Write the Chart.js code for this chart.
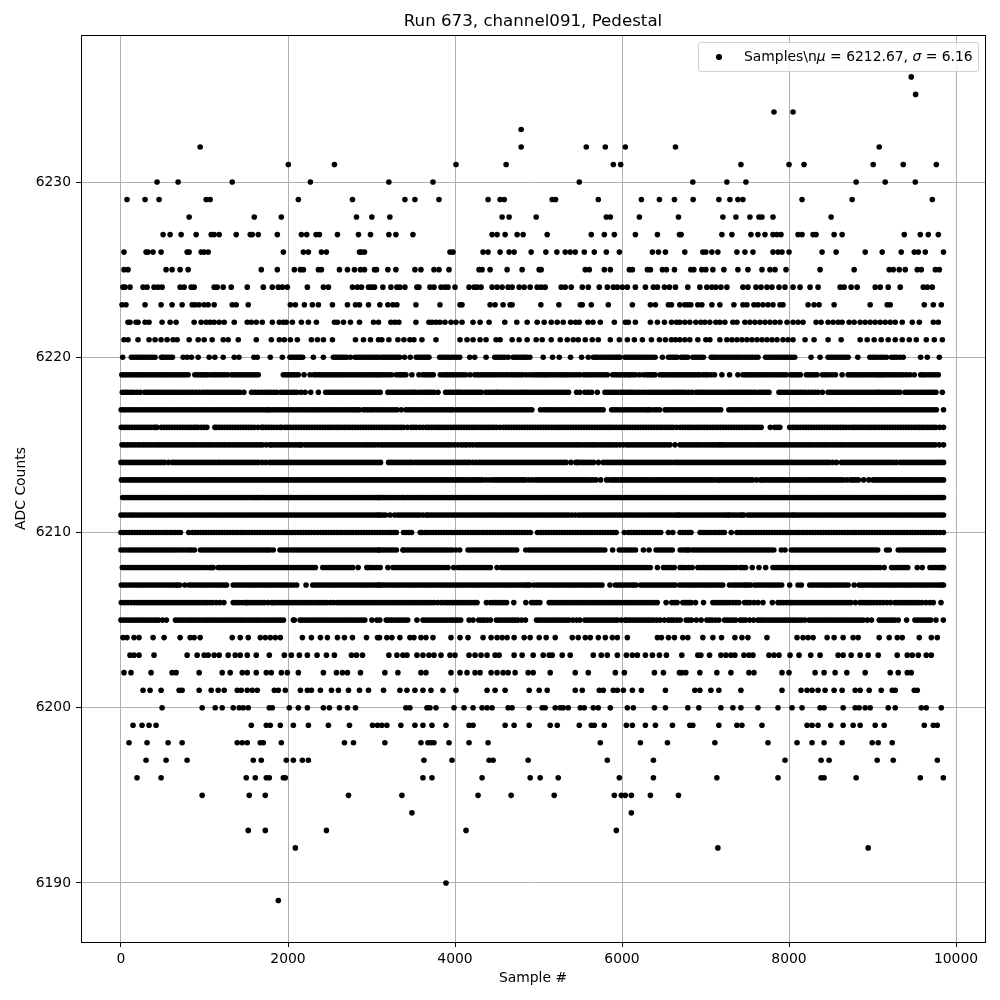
<!DOCTYPE html>
<html>
<head>
<meta charset="utf-8">
<title>Run 673, channel091, Pedestal</title>
<script src="https://cdn.jsdelivr.net/npm/chart.js@4"></script>
<style>
  html, body { margin: 0; padding: 0; background: #fff; }
  #wrap { position: relative; width: 1000px; height: 1000px; }
  #legend {
    position: absolute; left: 698px; top: 42px; width: 279px; height: 28px;
    background: rgba(255,255,255,0.8); border: 1px solid #d0d0d0; border-radius: 3px;
    font: 13.9px "DejaVu Sans", sans-serif; color: #000;
  }
  #legend .dot { position: absolute; left: 17px; top: 11px; width: 5.6px; height: 5.6px; border-radius: 50%; background: #000; }
  #legend .txt { position: absolute; left: 45px; top: 5px; white-space: pre; }
</style>
</head>
<body>
<div id="wrap">
  <canvas id="pedestal" width="1000" height="1000"></canvas>
  <div id="legend"><span class="dot"></span><span class="txt">Samples\n<i>μ</i> = 6212.67, <i>σ</i> = 6.16</span></div>
</div>
<script>
const xTickValues = [0, 2000, 4000, 6000, 8000, 10000];
const yTickValues = [6190, 6200, 6210, 6220, 6230];

// sample numbers, one list per ADC level
const at6236 = [9464];
const at6235 = [9516];
const at6234 = [7820, 8048];
const at6233 = [4792];
const at6232 = [948, 4792, 5572, 5800, 6040, 6640, 9080];
const at6231 = [2004, 2556, 4012, 4612, 5896, 5984, 7424, 8000, 8180, 9008, 9368, 9764];
const at6230 = [432, 684, 1332, 2268, 3208, 3736, 5488, 6848, 7256, 7484, 8804, 9152, 9512];
const at6229 = [72, 288, 456, 1020, 1068, 2124, 2772, 3400, 3520, 3808, 4396, 4540, 4590, 5164, 5204, 5716, 6232, 6448, 6628, 6852, 7160, 7292, 7388, 7448, 8156, 8756, 9716];
const at6228 = [816, 1596, 1920, 2820, 3004, 3220, 4564, 4648, 4972, 5812, 5860, 6208, 6676, 7208, 7364, 7532, 7640, 7676, 7808, 8504];
const at6227 = [504, 588, 720, 900, 1080, 1116, 1176, 1380, 1548, 1572, 1644, 1872, 2160, 2224, 2336, 2376, 2592, 2844, 2988, 3208, 3292, 3496, 4444, 4504, 4600, 4744, 4816, 5104, 5632, 5788, 5908, 6160, 6424, 6688, 6708, 7196, 7316, 7544, 7628, 7712, 7808, 7856, 7904, 8108, 8156, 8288, 8324, 8540, 8636, 9380, 9572, 9668, 9788];
const at6226 = [36, 300, 324, 384, 480, 792, 816, 960, 996, 1044, 1944, 2184, 2244, 2400, 2460, 2856, 2880, 2916, 3940, 3976, 4336, 4396, 4540, 4648, 4708, 4912, 5088, 5220, 5320, 5380, 5440, 5548, 5668, 5812, 5968, 6364, 6436, 6520, 6752, 6968, 7004, 7076, 7148, 7376, 7472, 7568, 7808, 7868, 7916, 8000, 8396, 8564, 8912, 9116, 9344, 9500, 9548, 9632, 9850];
const at6225 = [36, 84, 540, 612, 708, 804, 1680, 1872, 2076, 2148, 2184, 2364, 2400, 2616, 2712, 2796, 2868, 2916, 3036, 3060, 3196, 3292, 3520, 3592, 3748, 3808, 3928, 4288, 4324, 4420, 4624, 4804, 5008, 5032, 5560, 5608, 5788, 5860, 6088, 6124, 6304, 6340, 6484, 6532, 6628, 6824, 6860, 6956, 7004, 7088, 7220, 7388, 7508, 7676, 7772, 7832, 7964, 8372, 8780, 9200, 9248, 9320, 9392, 9536, 9584, 9752, 9800];
const at6224 = [24, 48, 108, 264, 312, 396, 444, 492, 708, 756, 840, 876, 1116, 1152, 1224, 1320, 1512, 1704, 1812, 1884, 1932, 1992, 2232, 2424, 2484, 2772, 2832, 2880, 2964, 3000, 3036, 3136, 3232, 3304, 3340, 3400, 3544, 3568, 3700, 3748, 3832, 3880, 3916, 4000, 4168, 4228, 4264, 4312, 4444, 4504, 4564, 4636, 4684, 4768, 4828, 4900, 4984, 5032, 5080, 5272, 5320, 5392, 5524, 5596, 5728, 5824, 5896, 5944, 6004, 6064, 6160, 6280, 6376, 6424, 6508, 6568, 6640, 6788, 6932, 7016, 7076, 7124, 7184, 7256, 7448, 7508, 7604, 7664, 7736, 7796, 7880, 7952, 8048, 8132, 8252, 8348, 8612, 8660, 8744, 8816, 9032, 9092, 9188, 9332, 9608, 9656, 9716];
const at6223 = [12, 60, 288, 480, 612, 732, 852, 888, 936, 996, 1044, 1116, 1332, 1380, 1524, 2028, 2088, 2196, 2292, 2364, 2532, 2712, 2808, 2856, 2964, 3100, 3196, 3256, 3304, 3532, 3820, 4060, 4084, 4420, 4480, 4576, 4660, 4684, 5028, 5244, 5500, 5524, 5632, 5836, 6124, 6340, 6400, 6556, 6592, 6692, 6752, 6788, 6824, 6908, 6956, 7076, 7172, 7340, 7448, 7496, 7580, 7628, 7688, 7748, 7808, 7892, 7928, 8228, 8300, 8360, 8540, 8972, 9176, 9212, 9620, 9728, 9824];
const at6222 = [84, 108, 180, 204, 288, 336, 492, 588, 660, 876, 960, 1020, 1068, 1116, 1176, 1236, 1356, 1512, 1560, 1620, 1692, 1812, 1896, 1944, 1980, 2052, 2160, 2244, 2340, 2556, 2592, 2664, 2748, 2856, 3024, 3084, 3232, 3280, 3328, 3532, 3688, 3724, 3772, 3820, 3880, 3952, 4012, 4084, 4216, 4300, 4408, 4596, 4740, 4864, 4984, 5068, 5152, 5224, 5296, 5384, 5444, 5488, 5592, 5652, 5740, 5908, 6040, 6076, 6160, 6340, 6424, 6508, 6592, 6652, 6692, 6752, 6812, 6884, 6944, 6992, 7052, 7124, 7172, 7232, 7328, 7376, 7472, 7532, 7592, 7652, 7712, 7772, 7832, 7892, 7976, 8048, 8108, 8168, 8324, 8384, 8468, 8528, 8588, 8636, 8720, 8780, 8852, 8912, 8972, 9032, 9092, 9152, 9212, 9272, 9356, 9476, 9560, 9728, 9788];
const at6221 = [36, 84, 204, 336, 408, 480, 552, 624, 672, 816, 924, 996, 1092, 1224, 1284, 1404, 1620, 1800, 1896, 1956, 2028, 2112, 2280, 2352, 2424, 2532, 2808, 2904, 2988, 3084, 3124, 3208, 3316, 3388, 3460, 3508, 3604, 3772, 4060, 4144, 4216, 4300, 4372, 4492, 4540, 4684, 4768, 4864, 4972, 5044, 5152, 5260, 5344, 5416, 5476, 5560, 5644, 5716, 5860, 5968, 6064, 6148, 6244, 6352, 6448, 6520, 6592, 6640, 6692, 6752, 6812, 6908, 7004, 7052, 7172, 7256, 7316, 7376, 7436, 7496, 7556, 7616, 7676, 7736, 7796, 7856, 7928, 7988, 8048, 8192, 8300, 8468, 8624, 8852, 8936, 9020, 9104, 9188, 9272, 9356, 9440, 9524, 9644, 9740, 9836];
const at6220 = [20, 124, 180, 235, 292, 350, 408, 484, 504, 560, 616, 744, 792, 844, 924, 1056, 1124, 1224, 1356, 1412, 1592, 1632, 1788, 1932, 2024, 2076, 2128, 2176, 2304, 2424, 2544, 2596, 2652, 2704, 2748, 2804, 2860, 2916, 2972, 3028, 3084, 3116, 3170, 3226, 3280, 3336, 3396, 3464, 3536, 3590, 3640, 3688, 3816, 3872, 3928, 3990, 4056, 4176, 4236, 4372, 4476, 4536, 4596, 4636, 4696, 4752, 4810, 4860, 4896, 5056, 5168, 5248, 5384, 5516, 5596, 5656, 5708, 5770, 5826, 5880, 5930, 5976, 6036, 6092, 6150, 6210, 6268, 6330, 6396, 6484, 6556, 6612, 6660, 6708, 6760, 6788, 6848, 6910, 6976, 7068, 7124, 7188, 7250, 7312, 7376, 7436, 7500, 7564, 7628, 7720, 7780, 7840, 7896, 7952, 8010, 8068, 8264, 8372, 8468, 8528, 8590, 8650, 8708, 8824, 8968, 9030, 9100, 9168, 9228, 9290, 9368, 9576, 9656, 9800];
const at6219 = [10, 66, 128, 190, 248, 310, 372, 436, 496, 552, 612, 676, 740, 804, 884, 940, 990, 1044, 1084, 1146, 1210, 1276, 1324, 1388, 1452, 1516, 1580, 1644, 1944, 2006, 2066, 2124, 2192, 2264, 2312, 2376, 2440, 2504, 2566, 2630, 2698, 2764, 2796, 2864, 2926, 2988, 3050, 3104, 3166, 3240, 3296, 3356, 3412, 3484, 3568, 3616, 3678, 3740, 3824, 3864, 3926, 3990, 4060, 4128, 4180, 4236, 4300, 4366, 4430, 4496, 4570, 4636, 4676, 4740, 4810, 4896, 4936, 5000, 5060, 5116, 5152, 5224, 5288, 5350, 5424, 5496, 5544, 5610, 5680, 5756, 5824, 5888, 5950, 6014, 6076, 6096, 6160, 6256, 6296, 6350, 6396, 6456, 6516, 6580, 6640, 6696, 6750, 6810, 6870, 6928, 6968, 7028, 7108, 7196, 7288, 7388, 7448, 7508, 7570, 7630, 7694, 7760, 7830, 7900, 7968, 8020, 8080, 8136, 8208, 8270, 8336, 8400, 8470, 8556, 8636, 8708, 8770, 8832, 8896, 8960, 9028, 9056, 9108, 9170, 9234, 9300, 9370, 9448, 9500, 9576, 9640, 9716, 9788];
const at6218 = [16, 80, 150, 232, 284, 346, 408, 470, 534, 596, 660, 724, 790, 860, 936, 976, 1040, 1104, 1168, 1232, 1296, 1360, 1424, 1472, 1564, 1604, 1680, 1756, 1792, 1864, 1912, 1976, 2040, 2104, 2204, 2272, 2364, 2452, 2516, 2580, 2644, 2710, 2774, 2838, 2904, 2970, 3036, 3104, 3196, 3228, 3290, 3352, 3414, 3476, 3524, 3564, 3630, 3690, 3748, 3796, 3888, 3950, 4010, 4056, 4076, 4140, 4200, 4260, 4316, 4368, 4430, 4496, 4520, 4584, 4648, 4712, 4778, 4840, 4904, 4970, 5036, 5100, 5166, 5230, 5296, 5360, 5456, 5496, 5556, 5636, 5704, 5796, 5860, 5924, 5990, 6050, 6104, 6128, 6200, 6276, 6316, 6380, 6444, 6508, 6572, 6636, 6696, 6760, 6840, 6888, 6950, 7012, 7078, 7140, 7204, 7268, 7330, 7388, 7416, 7480, 7540, 7600, 7640, 7700, 7760, 7880, 7944, 8008, 8072, 8136, 8200, 8276, 8348, 8400, 8468, 8530, 8594, 8660, 8724, 8790, 8856, 8920, 8984, 9048, 9100, 9136, 9200, 9264, 9328, 9388, 9450, 9514, 9580, 9640, 9704, 9760, 9836];
const at6217 = [2, 62, 126, 190, 256, 320, 384, 450, 514, 578, 644, 708, 772, 836, 900, 966, 1030, 1094, 1160, 1224, 1288, 1352, 1418, 1482, 1548, 1612, 1676, 1740, 1784, 1816, 1880, 1944, 2010, 2074, 2138, 2202, 2266, 2324, 2352, 2416, 2482, 2546, 2610, 2676, 2740, 2804, 2856, 2904, 2966, 3030, 3104, 3166, 3236, 3304, 3356, 3412, 3476, 3540, 3604, 3670, 3734, 3800, 3864, 3926, 3976, 4016, 4080, 4146, 4210, 4274, 4340, 4404, 4468, 4532, 4596, 4660, 4726, 4790, 4854, 4920, 5024, 5064, 5128, 5192, 5258, 5322, 5386, 5450, 5516, 5580, 5644, 5708, 5774, 5876, 5908, 5972, 6036, 6100, 6166, 6230, 6294, 6344, 6384, 6450, 6516, 6536, 6600, 6664, 6730, 6794, 6858, 6924, 6988, 7052, 7118, 7182, 7280, 7308, 7372, 7436, 7500, 7566, 7630, 7696, 7760, 7824, 7890, 7954, 8018, 8084, 8148, 8212, 8276, 8342, 8406, 8470, 8536, 8600, 8664, 8730, 8794, 8858, 8924, 8988, 9052, 9118, 9182, 9246, 9312, 9376, 9440, 9506, 9570, 9634, 9700, 9764, 9850];
const at6216 = [4, 68, 132, 198, 262, 326, 392, 432, 484, 548, 612, 676, 740, 806, 870, 924, 964, 1028, 1124, 1144, 1208, 1272, 1336, 1402, 1466, 1530, 1596, 1684, 1704, 1768, 1832, 1904, 1924, 1964, 2028, 2094, 2158, 2222, 2288, 2352, 2416, 2482, 2546, 2610, 2676, 2740, 2804, 2870, 2934, 2998, 3062, 3128, 3192, 3256, 3322, 3386, 3476, 3536, 3616, 3656, 3720, 3786, 3850, 3914, 3980, 4044, 4108, 4174, 4238, 4302, 4368, 4432, 4496, 4576, 4608, 4672, 4736, 4802, 4866, 4930, 4996, 5060, 5124, 5190, 5254, 5318, 5384, 5448, 5512, 5578, 5642, 5706, 5772, 5836, 5900, 5966, 6030, 6094, 6160, 6224, 6288, 6354, 6418, 6482, 6548, 6612, 6696, 6760, 6824, 6890, 6954, 7018, 7084, 7148, 7212, 7278, 7342, 7406, 7472, 7536, 7600, 7666, 7776, 7828, 7890, 8008, 8040, 8104, 8170, 8234, 8298, 8364, 8428, 8492, 8558, 8622, 8686, 8760, 8788, 8852, 8918, 8982, 9046, 9112, 9176, 9240, 9306, 9370, 9434, 9500, 9564, 9628, 9694, 9758, 9850];
const at6215 = [12, 76, 140, 206, 270, 334, 400, 464, 528, 594, 658, 722, 788, 852, 916, 982, 1046, 1110, 1176, 1240, 1304, 1370, 1434, 1498, 1564, 1628, 1692, 1784, 1804, 1868, 1932, 1998, 2062, 2126, 2164, 2204, 2268, 2334, 2398, 2462, 2528, 2592, 2656, 2722, 2786, 2850, 2916, 2980, 3044, 3116, 3180, 3244, 3310, 3374, 3438, 3504, 3568, 3632, 3698, 3762, 3826, 3892, 3956, 4036, 4076, 4140, 4216, 4256, 4320, 4386, 4450, 4514, 4580, 4644, 4708, 4774, 4838, 4902, 4968, 5032, 5096, 5162, 5226, 5290, 5356, 5420, 5484, 5550, 5614, 5678, 5744, 5808, 5872, 5938, 6016, 6056, 6120, 6186, 6250, 6314, 6380, 6444, 6508, 6574, 6696, 6760, 6826, 6890, 6954, 7020, 7084, 7148, 7200, 7228, 7292, 7358, 7422, 7486, 7552, 7616, 7680, 7746, 7810, 7874, 7940, 8004, 8068, 8134, 8198, 8262, 8328, 8392, 8456, 8522, 8586, 8650, 8716, 8780, 8844, 8910, 8974, 9038, 9104, 9168, 9232, 9298, 9362, 9426, 9492, 9556, 9620, 9686, 9750, 9850];
const at6214 = [0, 64, 130, 194, 258, 324, 388, 452, 518, 616, 644, 708, 774, 838, 902, 968, 1032, 1096, 1164, 1192, 1256, 1322, 1386, 1450, 1516, 1580, 1644, 1736, 1784, 1848, 1914, 1978, 2042, 2108, 2172, 2236, 2302, 2366, 2430, 2496, 2560, 2624, 2690, 2754, 2818, 2884, 2948, 3012, 3076, 3108, 3204, 3236, 3300, 3366, 3430, 3488, 3528, 3592, 3658, 3722, 3786, 3852, 3916, 3980, 4046, 4110, 4174, 4256, 4296, 4360, 4426, 4490, 4554, 4620, 4684, 4748, 4814, 4878, 4942, 5008, 5072, 5136, 5202, 5266, 5330, 5448, 5464, 5528, 5594, 5658, 5776, 5816, 5880, 5946, 6010, 6074, 6140, 6204, 6268, 6334, 6398, 6462, 6528, 6596, 6636, 6668, 6732, 6798, 6862, 6926, 6992, 7056, 7120, 7186, 7250, 7314, 7380, 7444, 7508, 7574, 7638, 7702, 7768, 7832, 7896, 7962, 8026, 8090, 8156, 8220, 8284, 8350, 8414, 8478, 8568, 8628, 8692, 8758, 8822, 8886, 8952, 9016, 9080, 9146, 9210, 9288, 9336, 9400, 9466, 9530, 9594, 9660, 9724, 9788, 9850];
const at6213 = [6, 70, 134, 200, 264, 328, 394, 458, 522, 588, 652, 716, 782, 846, 910, 976, 1040, 1104, 1170, 1234, 1298, 1364, 1428, 1492, 1558, 1622, 1686, 1752, 1816, 1880, 1946, 2010, 2074, 2140, 2204, 2268, 2334, 2398, 2462, 2528, 2592, 2656, 2722, 2786, 2850, 2916, 2980, 3044, 3104, 3168, 3234, 3298, 3362, 3428, 3492, 3556, 3622, 3686, 3750, 3816, 3880, 3944, 4010, 4074, 4138, 4204, 4268, 4332, 4416, 4456, 4520, 4586, 4650, 4714, 4780, 4844, 4928, 4968, 5032, 5098, 5162, 5226, 5292, 5356, 5420, 5486, 5550, 5614, 5688, 5744, 5816, 5856, 5920, 5986, 6050, 6114, 6180, 6244, 6308, 6374, 6438, 6502, 6568, 6632, 6696, 6760, 6826, 6890, 6954, 7020, 7084, 7160, 7176, 7240, 7306, 7370, 7434, 7500, 7564, 7660, 7680, 7744, 7810, 7874, 7938, 8004, 8068, 8132, 8198, 8262, 8326, 8392, 8456, 8520, 8586, 8650, 8736, 8768, 8830, 8956, 9008, 9072, 9138, 9202, 9266, 9332, 9396, 9460, 9526, 9590, 9654, 9720, 9784, 9850];
const at6212 = [20, 84, 148, 214, 278, 342, 408, 472, 536, 602, 666, 730, 796, 860, 924, 990, 1054, 1118, 1184, 1248, 1312, 1378, 1442, 1506, 1572, 1624, 1644, 1708, 1774, 1838, 1902, 1968, 2032, 2096, 2162, 2226, 2290, 2356, 2420, 2484, 2550, 2614, 2678, 2744, 2808, 2872, 2938, 3002, 3066, 3104, 3168, 3234, 3298, 3368, 3392, 3456, 3522, 3586, 3650, 3716, 3780, 3844, 3910, 3968, 4004, 4068, 4134, 4198, 4262, 4328, 4392, 4456, 4522, 4586, 4650, 4716, 4780, 4844, 4910, 4974, 5038, 5104, 5168, 5232, 5298, 5362, 5426, 5492, 5556, 5620, 5686, 5750, 5814, 5880, 5944, 6008, 6074, 6138, 6202, 6268, 6332, 6396, 6462, 6526, 6590, 6656, 6720, 6784, 6850, 6914, 6978, 7044, 7108, 7172, 7238, 7302, 7366, 7432, 7496, 7560, 7626, 7690, 7754, 7820, 7884, 7948, 8014, 8078, 8142, 8208, 8272, 8336, 8402, 8466, 8530, 8596, 8660, 8724, 8790, 8854, 8918, 8984, 9048, 9112, 9178, 9242, 9306, 9372, 9436, 9500, 9566, 9630, 9694, 9760, 9824, 9850];
const at6211 = [0, 60, 124, 152, 216, 282, 346, 410, 476, 540, 604, 670, 734, 798, 864, 928, 992, 1058, 1122, 1186, 1252, 1316, 1380, 1446, 1510, 1574, 1640, 1704, 1768, 1834, 1898, 1962, 2028, 2092, 2156, 2222, 2286, 2350, 2416, 2480, 2544, 2610, 2674, 2738, 2804, 2868, 2932, 2998, 3062, 3104, 3168, 3276, 3316, 3380, 3446, 3510, 3574, 3656, 3676, 3740, 3806, 3870, 3934, 4000, 4064, 4128, 4194, 4258, 4322, 4388, 4452, 4516, 4582, 4646, 4710, 4776, 4840, 4904, 4970, 5034, 5098, 5164, 5228, 5292, 5356, 5396, 5480, 5516, 5580, 5646, 5710, 5774, 5840, 5904, 5968, 6034, 6098, 6162, 6228, 6296, 6328, 6392, 6458, 6522, 6586, 6652, 6696, 6760, 6826, 6890, 6954, 7020, 7084, 7148, 7214, 7268, 7288, 7352, 7418, 7460, 7508, 7572, 7638, 7702, 7766, 7832, 7896, 7960, 8026, 8076, 8108, 8172, 8238, 8302, 8366, 8432, 8496, 8560, 8626, 8690, 8754, 8820, 8884, 8948, 9014, 9078, 9142, 9208, 9272, 9336, 9402, 9466, 9530, 9596, 9660, 9724, 9790, 9850];
const at6210 = [0, 66, 130, 194, 260, 324, 388, 454, 518, 582, 648, 712, 812, 856, 920, 986, 1050, 1114, 1180, 1244, 1308, 1374, 1438, 1502, 1568, 1632, 1696, 1762, 1826, 1890, 1956, 2020, 2084, 2150, 2214, 2278, 2356, 2392, 2456, 2522, 2586, 2650, 2716, 2780, 2816, 2844, 2908, 2974, 3038, 3104, 3168, 3234, 3298, 3384, 3416, 3480, 3584, 3608, 3672, 3738, 3802, 3866, 3932, 3996, 4060, 4126, 4190, 4254, 4320, 4384, 4448, 4514, 4578, 4642, 4708, 4772, 4836, 4902, 4988, 5024, 5088, 5154, 5218, 5282, 5348, 5412, 5476, 5542, 5606, 5670, 5736, 5800, 5864, 5930, 6028, 6076, 6140, 6206, 6270, 6334, 6400, 6464, 6556, 6608, 6696, 6760, 6826, 6936, 6968, 7032, 7098, 7162, 7226, 7308, 7376, 7440, 7506, 7570, 7634, 7700, 7764, 7828, 7894, 7958, 8022, 8088, 8152, 8216, 8282, 8346, 8410, 8476, 8540, 8604, 8670, 8734, 8798, 8864, 8928, 8992, 9058, 9122, 9186, 9252, 9316, 9380, 9446, 9510, 9574, 9640, 9704, 9768, 9850];
const at6209 = [0, 64, 130, 194, 258, 324, 388, 452, 518, 582, 646, 712, 784, 816, 880, 952, 984, 1048, 1114, 1178, 1242, 1304, 1336, 1400, 1466, 1530, 1594, 1660, 1724, 1784, 1824, 1904, 1968, 2034, 2098, 2162, 2228, 2292, 2356, 2422, 2486, 2550, 2616, 2680, 2744, 2810, 2874, 2938, 3004, 3068, 3104, 3168, 3234, 3298, 3376, 3384, 3448, 3514, 3578, 3642, 3708, 3772, 3836, 3902, 3966, 4056, 4156, 4220, 4286, 4350, 4414, 4480, 4544, 4608, 4674, 4738, 4848, 4888, 4952, 5018, 5082, 5146, 5212, 5276, 5340, 5406, 5470, 5534, 5600, 5664, 5728, 5794, 5888, 5968, 6032, 6098, 6162, 6256, 6324, 6408, 6472, 6538, 6602, 6696, 6760, 6808, 6848, 6912, 6978, 7042, 7106, 7172, 7236, 7300, 7366, 7430, 7494, 7560, 7624, 7688, 7754, 7818, 7908, 7952, 8028, 8092, 8158, 8222, 8286, 8352, 8416, 8480, 8546, 8610, 8674, 8740, 8804, 8868, 8934, 8998, 9062, 9168, 9200, 9308, 9372, 9438, 9502, 9566, 9628, 9656, 9720, 9786, 9850];
const at6208 = [16, 80, 146, 210, 274, 340, 404, 468, 534, 598, 662, 728, 792, 856, 922, 986, 1064, 1104, 1164, 1228, 1294, 1358, 1422, 1488, 1552, 1616, 1682, 1746, 1810, 1876, 1940, 2004, 2070, 2134, 2198, 2264, 2328, 2416, 2452, 2516, 2582, 2646, 2710, 2776, 2840, 2944, 2964, 3028, 3104, 3196, 3256, 3320, 3386, 3450, 3514, 3580, 3644, 3708, 3774, 3838, 3916, 3984, 4036, 4100, 4166, 4230, 4294, 4360, 4424, 4504, 4556, 4620, 4686, 4750, 4814, 4880, 4944, 5008, 5074, 5138, 5202, 5268, 5332, 5396, 5462, 5526, 5590, 5656, 5724, 5756, 5820, 5886, 5950, 6014, 6080, 6144, 6208, 6274, 6338, 6424, 6496, 6560, 6626, 6696, 6760, 6840, 6908, 6972, 7038, 7102, 7166, 7232, 7296, 7368, 7416, 7480, 7560, 7640, 7720, 7808, 7872, 7938, 8002, 8068, 8112, 8176, 8242, 8306, 8370, 8436, 8500, 8564, 8630, 8694, 8758, 8824, 8888, 8952, 9018, 9088, 9140, 9228, 9292, 9358, 9422, 9536, 9596, 9688, 9752, 9818, 9850];
const at6207 = [4, 68, 134, 198, 262, 328, 392, 456, 522, 586, 650, 704, 764, 816, 880, 946, 1010, 1074, 1140, 1204, 1264, 1344, 1408, 1474, 1538, 1602, 1668, 1732, 1796, 1862, 1926, 1990, 2064, 2104, 2216, 2296, 2360, 2426, 2490, 2554, 2620, 2684, 2748, 2814, 2878, 2942, 3008, 3072, 3104, 3168, 3234, 3298, 3362, 3428, 3492, 3556, 3622, 3686, 3750, 3816, 3880, 3944, 4010, 4074, 4138, 4204, 4268, 4332, 4398, 4462, 4526, 4592, 4656, 4720, 4786, 4850, 4896, 4944, 4984, 5048, 5114, 5178, 5242, 5308, 5372, 5436, 5502, 5566, 5630, 5696, 5760, 5856, 5920, 5984, 6050, 6114, 6168, 6224, 6288, 6354, 6416, 6448, 6512, 6578, 6636, 6688, 6752, 6818, 6882, 6946, 7012, 7076, 7140, 7206, 7288, 7328, 7392, 7458, 7508, 7540, 7588, 7652, 7718, 7782, 7846, 7912, 8008, 8108, 8148, 8248, 8312, 8378, 8442, 8506, 8572, 8636, 8708, 8780, 8840, 8904, 8970, 9034, 9098, 9164, 9228, 9292, 9358, 9422, 9486, 9552, 9616, 9680, 9746, 9810, 9850];
const at6206 = [4, 84, 124, 164, 228, 294, 358, 422, 488, 552, 616, 644, 708, 774, 838, 902, 968, 1032, 1096, 1184, 1232, 1344, 1408, 1484, 1524, 1588, 1654, 1718, 1804, 1824, 1888, 1954, 2018, 2082, 2148, 2212, 2276, 2342, 2406, 2470, 2544, 2584, 2648, 2714, 2778, 2842, 2908, 2972, 3036, 3104, 3168, 3234, 3298, 3362, 3428, 3492, 3556, 3622, 3686, 3750, 3836, 3876, 3940, 4006, 4070, 4134, 4200, 4264, 4376, 4424, 4488, 4554, 4618, 4704, 4848, 4916, 4980, 5016, 5128, 5192, 5258, 5322, 5386, 5452, 5516, 5580, 5646, 5710, 5774, 5840, 5904, 5968, 6034, 6098, 6162, 6228, 6292, 6356, 6422, 6528, 6596, 6660, 6728, 6780, 6828, 6880, 6976, 7088, 7152, 7218, 7288, 7328, 7400, 7468, 7532, 7628, 7688, 7800, 7868, 7932, 8008, 8028, 8092, 8158, 8222, 8286, 8352, 8416, 8480, 8546, 8610, 8674, 8740, 8848, 8880, 8944, 9010, 9088, 9128, 9216, 9268, 9332, 9398, 9462, 9526, 9592, 9688, 9728, 9820];
const at6205 = [0, 64, 130, 194, 258, 324, 388, 452, 544, 652, 716, 782, 846, 910, 976, 1040, 1104, 1170, 1234, 1298, 1364, 1428, 1492, 1558, 1622, 1686, 1752, 1816, 1880, 1946, 2064, 2076, 2144, 2208, 2274, 2338, 2402, 2468, 2532, 2596, 2662, 2726, 2790, 2856, 2920, 3004, 3064, 3100, 3176, 3240, 3306, 3370, 3434, 3544, 3616, 3680, 3746, 3810, 3874, 3940, 4004, 4068, 4168, 4216, 4284, 4348, 4424, 4496, 4560, 4626, 4690, 4754, 4844, 4976, 5040, 5106, 5170, 5234, 5300, 5364, 5456, 5496, 5556, 5620, 5686, 5750, 5814, 5880, 5944, 6036, 6056, 6120, 6186, 6250, 6314, 6380, 6456, 6508, 6556, 6620, 6696, 6768, 6832, 6948, 7016, 7080, 7160, 7228, 7292, 7360, 7416, 7480, 7576, 7628, 7692, 7758, 7822, 7886, 7952, 8016, 8080, 8148, 8188, 8240, 8304, 8370, 8434, 8498, 8564, 8628, 8692, 8758, 8822, 8886, 8988, 9080, 9144, 9210, 9268, 9308, 9408, 9508, 9572, 9638, 9696, 9760, 9848];
const at6204 = [24, 72, 156, 216, 384, 516, 708, 828, 876, 948, 1332, 1428, 1524, 1668, 1728, 1788, 1848, 1908, 2172, 2280, 2388, 2472, 2592, 2676, 2772, 2940, 3072, 3096, 3184, 3244, 3340, 3460, 3508, 3592, 3652, 3736, 3952, 4060, 4156, 4336, 4432, 4504, 4564, 4624, 4708, 4828, 4900, 5008, 5092, 5200, 5404, 5476, 5560, 5620, 5716, 5800, 5884, 5944, 6064, 6424, 6472, 6556, 6628, 6728, 6788, 6968, 7088, 7192, 7352, 7436, 7508, 7736, 8096, 8168, 8228, 8288, 8456, 8540, 8648, 8768, 8828, 9080, 9200, 9296, 9356, 9560, 9704, 9776];
const at6203 = [108, 156, 216, 396, 792, 912, 996, 1044, 1116, 1176, 1284, 1368, 1428, 1512, 1620, 1776, 1956, 2040, 2136, 2232, 2348, 2460, 2556, 2760, 2820, 2892, 3208, 3304, 3376, 3424, 3544, 3616, 3688, 3748, 3832, 3940, 4000, 4168, 4240, 4312, 4384, 4480, 4528, 4708, 4804, 4936, 5056, 5128, 5164, 5284, 5380, 5656, 5752, 5824, 5944, 6052, 6124, 6184, 6280, 6364, 6448, 6532, 6716, 6908, 6944, 7048, 7184, 7244, 7304, 7352, 7460, 7520, 7568, 7760, 7820, 7880, 8012, 8120, 8260, 8372, 8588, 8648, 8744, 8852, 8948, 9068, 9296, 9416, 9476, 9548, 9644, 9704];
const at6202 = [36, 120, 360, 612, 660, 936, 1212, 1308, 1452, 1512, 1620, 1740, 1800, 1920, 1992, 2124, 2424, 2580, 2652, 2712, 2868, 3160, 3316, 3592, 3652, 3952, 4060, 4144, 4240, 4300, 4432, 4504, 4576, 4636, 4720, 4876, 4936, 5140, 5440, 5596, 5920, 6028, 6388, 6496, 6688, 6716, 6764, 6932, 7136, 7304, 7520, 7580, 7916, 8000, 8312, 8420, 8552, 8692, 8912, 9212, 9308, 9416, 9464];
const at6201 = [264, 348, 480, 696, 732, 936, 1080, 1164, 1236, 1392, 1440, 1512, 1572, 1632, 1836, 1884, 1968, 2148, 2232, 2280, 2388, 2520, 2604, 2724, 2856, 2964, 3144, 3340, 3424, 3520, 3616, 3712, 3856, 4012, 4384, 4480, 4600, 4888, 5008, 5104, 5440, 5524, 5728, 5776, 5896, 5944, 6016, 6124, 6232, 6520, 6872, 6932, 7064, 7160, 7424, 7916, 8144, 8216, 8276, 8348, 8432, 8540, 8636, 8792, 8852, 8960, 9104, 9236, 9272, 9500, 9536];
const at6200 = [492, 972, 1128, 1212, 1344, 1416, 1464, 1524, 1776, 1812, 2016, 2124, 2232, 2424, 2496, 2616, 2712, 2808, 3412, 3460, 3664, 3700, 3772, 3988, 4108, 4216, 4324, 4384, 4444, 4636, 4684, 4888, 5044, 5080, 5200, 5260, 5296, 5356, 5500, 5548, 5656, 5716, 5860, 6064, 6136, 6388, 6520, 6788, 6920, 7184, 7328, 7424, 7628, 7868, 8036, 8156, 8372, 8420, 8648, 8792, 8840, 8912, 8972, 9188, 9272, 9584, 9644, 9824];
const at6199 = [144, 252, 336, 420, 1560, 1740, 1788, 1908, 2064, 2244, 2484, 2736, 3012, 3072, 3124, 3184, 3352, 3520, 3616, 3724, 3892, 4168, 4216, 4600, 4708, 4888, 5140, 5224, 5488, 5632, 5668, 5788, 6052, 6124, 6280, 6400, 6604, 6812, 6848, 7160, 7376, 7436, 7676, 8216, 8276, 8348, 8500, 8648, 8768, 8852, 9032, 9140, 9620, 9728, 9776];
const at6198 = [96, 312, 564, 732, 1392, 1452, 1512, 1668, 1704, 1920, 2676, 2784, 3160, 3592, 3676, 3712, 3748, 3928, 4168, 4396, 5740, 6220, 6544, 7112, 7748, 8096, 8276, 8420, 8636, 8996, 9068, 9236];
const at6197 = [300, 540, 792, 1584, 1680, 1980, 2064, 2172, 2244, 3628, 3964, 4408, 4456, 4876, 5824, 6376, 7952, 8384, 8480, 9056, 9248, 9776];
const at6196 = [192, 480, 1500, 1608, 1740, 1776, 1944, 1968, 3616, 3724, 4324, 4900, 5020, 5236, 5968, 6376, 7136, 7868, 8384, 8420, 8804, 9572, 9848];
const at6195 = [972, 1536, 1728, 2724, 3364, 4276, 4672, 5188, 5908, 5992, 6040, 6112, 6340, 6676];
const at6194 = [3484, 6112];
const at6193 = [1524, 1728, 2460, 4132, 5932];
const at6192 = [2088, 7148, 8948];
const at6190 = [3892];
const at6189 = [1884];

// more samples in the dense rows, where the dots run together
const more6220 = [152, 207, 263, 321, 379, 532, 588, 2050, 2102, 2152, 2570, 2624, 2678, 2832, 2888, 2944, 3000, 3056, 3143, 3198, 3253, 3308, 3563, 3615, 3664, 3844, 3900, 3959, 4023, 4506, 4566, 4724, 4781, 4835, 5682, 5739, 5798, 5853, 5905, 5953, 6064, 6121, 6180, 6239, 6299, 6363, 6584, 6636, 6734, 6879, 6943, 7096, 7156, 7219, 7281, 7344, 7406, 7468, 7532, 7596, 7750, 7810, 7868, 7924, 7981, 8039, 8498, 8559, 8620, 8679, 8999, 9065, 9134, 9259, 9329];
const more6219 = [38, 97, 159, 219, 279, 341, 404, 466, 524, 582, 644, 708, 772, 912, 965, 1017, 1115, 1178, 1243, 1356, 1420, 1484, 1548, 1612, 1975, 2036, 2095, 2344, 2408, 2472, 2535, 2598, 2664, 2731, 2830, 2895, 2957, 3019, 3077, 3135, 3203, 3326, 3384, 3647, 3709, 3895, 3958, 4025, 4094, 4268, 4333, 4398, 4463, 4533, 4603, 4708, 4775, 4853, 4968, 5030, 5088, 5188, 5256, 5319, 5387, 5460, 5577, 5645, 5718, 5790, 5919, 5982, 6045, 6128, 6208, 6323, 6373, 6486, 6548, 6610, 6668, 6723, 6780, 6840, 6899, 6998, 7068, 7478, 7539, 7600, 7662, 7727, 7795, 7865, 7934, 8050, 8108, 8239, 8303, 8435, 8513, 8739, 8801, 8864, 8928, 8994, 9082, 9139, 9202, 9267, 9335, 9409, 9608, 9678, 9752];
const more6218 = [48, 115, 191, 315, 377, 439, 502, 565, 628, 692, 757, 825, 898, 1008, 1072, 1136, 1200, 1264, 1328, 1392, 1642, 1718, 1828, 1944, 2008, 2072, 2154, 2484, 2548, 2612, 2677, 2742, 2806, 2871, 2937, 3003, 3070, 3259, 3321, 3383, 3445, 3500, 3597, 3660, 3719, 3919, 3980, 4033, 4108, 4170, 4230, 4288, 4399, 4463, 4552, 4616, 4680, 4745, 4809, 4872, 4937, 5003, 5068, 5133, 5198, 5263, 5328, 5596, 5828, 5892, 5957, 6020, 6077, 6164, 6238, 6348, 6412, 6476, 6540, 6604, 6666, 6728, 6800, 6919, 6981, 7045, 7109, 7172, 7236, 7299, 7359, 7448, 7510, 7570, 7670, 7730, 7912, 7976, 8040, 8104, 8168, 8238, 8312, 8499, 8562, 8627, 8692, 8757, 8823, 8888, 8952, 9016, 9074, 9168, 9232, 9296, 9419, 9482, 9547, 9610, 9672, 9732];
const more6217 = [32, 94, 158, 223, 288, 352, 417, 482, 546, 611, 676, 740, 804, 868, 933, 998, 1062, 1127, 1192, 1256, 1320, 1385, 1450, 1515, 1580, 1644, 1708, 1762, 1848, 1912, 1977, 2042, 2106, 2170, 2234, 2295, 2384, 2449, 2514, 2578, 2643, 2708, 2772, 2830, 2935, 2998, 3067, 3135, 3201, 3270, 3444, 3508, 3572, 3637, 3702, 3767, 3832, 3895, 3951, 4048, 4113, 4178, 4242, 4307, 4372, 4436, 4500, 4564, 4628, 4693, 4758, 4822, 4887, 5096, 5160, 5225, 5290, 5354, 5418, 5483, 5548, 5612, 5676, 5741, 5940, 6004, 6068, 6133, 6198, 6262, 6319, 6417, 6568, 6632, 6697, 6762, 6826, 6891, 6956, 7020, 7085, 7150, 7340, 7404, 7468, 7533, 7598, 7663, 7728, 7792, 7857, 7922, 7986, 8051, 8116, 8180, 8244, 8309, 8374, 8438, 8503, 8568, 8632, 8697, 8762, 8826, 8891, 8956, 9020, 9085, 9150, 9214, 9279, 9344, 9408, 9473, 9538, 9602, 9667, 9732];
const more6216 = [36, 100, 165, 230, 294, 358, 412, 516, 580, 644, 708, 773, 838, 897, 996, 1176, 1240, 1304, 1369, 1434, 1498, 1563, 1640, 1736, 1800, 1868, 1996, 2061, 2126, 2190, 2255, 2320, 2384, 2449, 2514, 2578, 2643, 2708, 2772, 2837, 2902, 2966, 3030, 3095, 3160, 3224, 3289, 3354, 3431, 3506, 3576, 3688, 3753, 3818, 3882, 3947, 4012, 4076, 4141, 4206, 4270, 4335, 4400, 4464, 4536, 4640, 4704, 4769, 4834, 4898, 4963, 5028, 5092, 5157, 5222, 5286, 5351, 5416, 5480, 5545, 5610, 5674, 5739, 5804, 5868, 5933, 5998, 6062, 6127, 6192, 6256, 6321, 6386, 6450, 6515, 6580, 6654, 6728, 6792, 6857, 6922, 6986, 7051, 7116, 7180, 7245, 7310, 7374, 7439, 7504, 7568, 7633, 7859, 8072, 8137, 8202, 8266, 8331, 8396, 8460, 8525, 8590, 8654, 8723, 8820, 8885, 8950, 9014, 9079, 9144, 9208, 9273, 9338, 9402, 9467, 9532, 9596, 9661, 9726, 9804];
const more6215 = [44, 108, 173, 238, 302, 367, 432, 496, 561, 626, 690, 755, 820, 884, 949, 1014, 1078, 1143, 1208, 1272, 1337, 1402, 1466, 1531, 1596, 1660, 1738, 1836, 1900, 1965, 2030, 2094, 2145, 2236, 2301, 2366, 2430, 2495, 2560, 2624, 2689, 2754, 2818, 2883, 2948, 3012, 3080, 3148, 3212, 3277, 3342, 3406, 3471, 3536, 3600, 3665, 3730, 3794, 3859, 3924, 3996, 4108, 4178, 4288, 4353, 4418, 4482, 4547, 4612, 4676, 4741, 4806, 4870, 4935, 5000, 5064, 5129, 5194, 5258, 5323, 5388, 5452, 5517, 5582, 5646, 5711, 5776, 5840, 5905, 5977, 6088, 6153, 6218, 6282, 6347, 6412, 6476, 6541, 6635, 6728, 6793, 6858, 6922, 6987, 7052, 7116, 7174, 7260, 7325, 7390, 7454, 7519, 7584, 7648, 7713, 7778, 7842, 7907, 7972, 8036, 8101, 8166, 8230, 8295, 8360, 8424, 8489, 8554, 8618, 8683, 8748, 8812, 8877, 8942, 9006, 9071, 9136, 9200, 9265, 9330, 9394, 9459, 9524, 9588, 9653, 9718, 9800];
const more6214 = [32, 97, 162, 226, 291, 356, 420, 485, 567, 676, 741, 806, 870, 935, 1000, 1064, 1130, 1224, 1289, 1354, 1418, 1483, 1548, 1612, 1690, 1816, 1881, 1946, 2010, 2075, 2140, 2204, 2269, 2334, 2398, 2463, 2528, 2592, 2657, 2722, 2786, 2851, 2916, 2980, 3044, 3268, 3333, 3398, 3459, 3560, 3625, 3690, 3754, 3819, 3884, 3948, 4013, 4078, 4142, 4215, 4328, 4393, 4458, 4522, 4587, 4652, 4716, 4781, 4846, 4910, 4975, 5040, 5104, 5169, 5234, 5298, 5389, 5496, 5561, 5626, 5717, 5848, 5913, 5978, 6042, 6107, 6172, 6236, 6301, 6366, 6430, 6495, 6562, 6700, 6765, 6830, 6894, 6959, 7024, 7088, 7153, 7218, 7282, 7347, 7412, 7476, 7541, 7606, 7670, 7735, 7800, 7864, 7929, 7994, 8058, 8123, 8188, 8252, 8317, 8382, 8446, 8523, 8660, 8725, 8790, 8854, 8919, 8984, 9048, 9113, 9178, 9249, 9368, 9433, 9498, 9562, 9627, 9692, 9756, 9819];
const more6213 = [38, 102, 167, 232, 296, 361, 426, 490, 555, 620, 684, 749, 814, 878, 943, 1008, 1072, 1137, 1202, 1266, 1331, 1396, 1460, 1525, 1590, 1654, 1719, 1784, 1848, 1913, 1978, 2042, 2107, 2172, 2236, 2301, 2366, 2430, 2495, 2560, 2624, 2689, 2754, 2818, 2883, 2948, 3012, 3074, 3136, 3201, 3266, 3330, 3395, 3460, 3524, 3589, 3654, 3718, 3783, 3848, 3912, 3977, 4042, 4106, 4171, 4236, 4300, 4374, 4488, 4553, 4618, 4682, 4747, 4812, 4886, 5000, 5065, 5130, 5194, 5259, 5324, 5388, 5453, 5518, 5582, 5651, 5888, 5953, 6018, 6082, 6147, 6212, 6276, 6341, 6406, 6470, 6535, 6600, 6664, 6728, 6793, 6858, 6922, 6987, 7052, 7122, 7208, 7273, 7338, 7402, 7467, 7532, 7612, 7712, 7777, 7842, 7906, 7971, 8036, 8100, 8165, 8230, 8294, 8359, 8424, 8488, 8553, 8618, 8693, 8799, 8893, 9040, 9105, 9170, 9234, 9299, 9364, 9428, 9493, 9558, 9622, 9687, 9752, 9817];
const more6212 = [52, 116, 181, 246, 310, 375, 440, 504, 569, 634, 698, 763, 828, 892, 957, 1022, 1086, 1151, 1216, 1280, 1345, 1410, 1474, 1539, 1598, 1676, 1741, 1806, 1870, 1935, 2000, 2064, 2129, 2194, 2258, 2323, 2388, 2452, 2517, 2582, 2646, 2711, 2776, 2840, 2905, 2970, 3034, 3085, 3136, 3201, 3266, 3333, 3424, 3489, 3554, 3618, 3683, 3748, 3812, 3877, 3939, 4036, 4101, 4166, 4230, 4295, 4360, 4424, 4489, 4554, 4618, 4683, 4748, 4812, 4877, 4942, 5006, 5071, 5136, 5200, 5265, 5330, 5394, 5459, 5524, 5588, 5653, 5718, 5782, 5847, 5912, 5976, 6041, 6106, 6170, 6235, 6300, 6364, 6429, 6494, 6558, 6623, 6688, 6752, 6817, 6882, 6946, 7011, 7076, 7140, 7205, 7270, 7334, 7399, 7464, 7528, 7593, 7658, 7722, 7787, 7852, 7916, 7981, 8046, 8110, 8175, 8240, 8304, 8369, 8434, 8498, 8563, 8628, 8692, 8757, 8822, 8886, 8951, 9016, 9080, 9145, 9210, 9274, 9339, 9404, 9468, 9533, 9598, 9662, 9727, 9792];
const more6211 = [30, 92, 184, 249, 314, 378, 443, 508, 572, 637, 702, 766, 831, 896, 960, 1025, 1090, 1154, 1219, 1284, 1348, 1413, 1478, 1542, 1607, 1672, 1736, 1801, 1866, 1930, 1995, 2060, 2124, 2189, 2254, 2318, 2383, 2448, 2512, 2577, 2642, 2706, 2771, 2836, 2900, 2965, 3030, 3083, 3136, 3222, 3348, 3413, 3478, 3542, 3615, 3708, 3773, 3838, 3902, 3967, 4032, 4096, 4161, 4226, 4290, 4355, 4420, 4484, 4549, 4614, 4678, 4743, 4808, 4872, 4937, 5002, 5066, 5131, 5196, 5260, 5324, 5438, 5548, 5613, 5678, 5742, 5807, 5872, 5936, 6001, 6066, 6130, 6195, 6262, 6360, 6425, 6490, 6554, 6619, 6674, 6728, 6793, 6858, 6922, 6987, 7052, 7116, 7181, 7241, 7320, 7385, 7439, 7540, 7605, 7670, 7734, 7799, 7864, 7928, 7993, 8051, 8140, 8205, 8270, 8334, 8399, 8464, 8528, 8593, 8658, 8722, 8787, 8852, 8916, 8981, 9046, 9110, 9175, 9240, 9304, 9369, 9434, 9498, 9563, 9628, 9692, 9757, 9820];
const more6210 = [33, 98, 162, 227, 292, 356, 421, 486, 550, 615, 680, 888, 953, 1018, 1082, 1147, 1212, 1276, 1341, 1406, 1470, 1535, 1600, 1664, 1729, 1794, 1858, 1923, 1988, 2052, 2117, 2182, 2246, 2317, 2424, 2489, 2554, 2618, 2683, 2748, 2876, 2941, 3006, 3071, 3136, 3201, 3266, 3448, 3640, 3705, 3770, 3834, 3899, 3964, 4028, 4093, 4158, 4222, 4287, 4352, 4416, 4481, 4546, 4610, 4675, 4740, 4804, 4869, 5056, 5121, 5186, 5250, 5315, 5380, 5444, 5509, 5574, 5638, 5703, 5768, 5832, 5897, 6108, 6173, 6238, 6302, 6367, 6432, 6728, 6793, 7000, 7065, 7130, 7194, 7408, 7473, 7538, 7602, 7667, 7732, 7796, 7861, 7926, 7990, 8055, 8120, 8184, 8249, 8314, 8378, 8443, 8508, 8572, 8637, 8702, 8766, 8831, 8896, 8960, 9025, 9090, 9154, 9219, 9284, 9348, 9413, 9478, 9542, 9607, 9672, 9736, 9809];
const more6209 = [32, 97, 162, 226, 291, 356, 420, 485, 550, 614, 679, 748, 848, 1016, 1081, 1146, 1210, 1273, 1368, 1433, 1498, 1562, 1627, 1692, 1754, 1936, 2001, 2066, 2130, 2195, 2260, 2324, 2389, 2454, 2518, 2583, 2648, 2712, 2777, 2842, 2906, 2971, 3036, 3086, 3136, 3201, 3266, 3416, 3481, 3546, 3610, 3675, 3740, 3804, 3869, 3934, 4011, 4188, 4253, 4318, 4382, 4447, 4512, 4576, 4641, 4706, 4920, 4985, 5050, 5114, 5179, 5244, 5308, 5373, 5438, 5502, 5567, 5632, 5696, 5761, 6000, 6065, 6130, 6440, 6505, 6570, 6728, 6784, 6880, 6945, 7010, 7074, 7139, 7204, 7268, 7333, 7398, 7462, 7527, 7592, 7656, 7721, 7786, 8060, 8125, 8190, 8254, 8319, 8384, 8448, 8513, 8578, 8642, 8707, 8772, 8836, 8901, 8966, 9030, 9340, 9405, 9470, 9534, 9597, 9688, 9753, 9818];
const more6208 = [48, 113, 178, 242, 307, 372, 436, 501, 566, 630, 695, 760, 824, 889, 954, 1025, 1084, 1196, 1261, 1326, 1390, 1455, 1520, 1584, 1649, 1714, 1778, 1843, 1908, 1972, 2037, 2102, 2166, 2231, 2296, 2484, 2549, 2614, 2678, 2743, 2996, 3066, 3288, 3353, 3418, 3482, 3547, 3612, 3676, 3741, 3806, 3877, 4068, 4133, 4198, 4262, 4327, 4392, 4588, 4653, 4718, 4782, 4847, 4912, 4976, 5041, 5106, 5170, 5235, 5300, 5364, 5429, 5494, 5558, 5623, 5690, 5788, 5853, 5918, 5982, 6047, 6112, 6176, 6241, 6306, 6528, 6593, 6728, 6800, 6940, 7005, 7070, 7134, 7199, 7264, 7332, 7448, 7840, 7905, 7970, 8035, 8144, 8209, 8274, 8338, 8403, 8468, 8532, 8597, 8662, 8726, 8791, 8856, 8920, 8985, 9053, 9260, 9325, 9390, 9720, 9785, 9834];
const more6207 = [36, 101, 166, 230, 295, 360, 424, 489, 554, 618, 677, 848, 913, 978, 1042, 1107, 1172, 1234, 1376, 1441, 1506, 1570, 1635, 1700, 1764, 1829, 1894, 1958, 2027, 2328, 2393, 2458, 2522, 2587, 2652, 2716, 2781, 2846, 2910, 2975, 3040, 3088, 3136, 3201, 3266, 3330, 3395, 3460, 3524, 3589, 3654, 3718, 3783, 3848, 3912, 3977, 4042, 4106, 4171, 4236, 4300, 4365, 4430, 4494, 4559, 4624, 4688, 4753, 4818, 4873, 5016, 5081, 5146, 5210, 5275, 5340, 5404, 5469, 5534, 5598, 5663, 5728, 5952, 6017, 6082, 6141, 6256, 6321, 6385, 6480, 6545, 6607, 6720, 6785, 6850, 6914, 6979, 7044, 7108, 7173, 7360, 7425, 7483, 7620, 7685, 7750, 7814, 7879, 8280, 8345, 8410, 8474, 8539, 8604, 8672, 8872, 8937, 9002, 9066, 9131, 9196, 9260, 9325, 9390, 9454, 9519, 9584, 9648, 9713, 9778, 9830];
const more6206 = [44, 196, 261, 326, 390, 455, 520, 584, 676, 741, 806, 870, 935, 1000, 1064, 1140, 1376, 1446, 1504, 1556, 1621, 1686, 1761, 1856, 1921, 1986, 2050, 2115, 2180, 2244, 2309, 2374, 2438, 2507, 2616, 2681, 2746, 2810, 2875, 2940, 3004, 3070, 3136, 3201, 3266, 3330, 3395, 3460, 3524, 3589, 3654, 3718, 3793, 3908, 3973, 4038, 4102, 4167, 4232, 4456, 4521, 4586, 4948, 5160, 5225, 5290, 5354, 5419, 5484, 5548, 5613, 5678, 5742, 5807, 5872, 5936, 6001, 6066, 6130, 6195, 6260, 6324, 6389, 6628, 6754, 6804, 7120, 7185, 7253, 7364, 7500, 7580, 7900, 7970, 8060, 8125, 8190, 8254, 8319, 8384, 8448, 8513, 8578, 8642, 8707, 8794, 8912, 8977, 9049, 9172, 9300, 9365, 9430, 9494, 9559, 9640];
const more6205 = [32, 97, 162, 226, 291, 356, 420, 498, 684, 749, 814, 878, 943, 1008, 1072, 1137, 1202, 1266, 1331, 1396, 1460, 1525, 1590, 1654, 1719, 1784, 1848, 1913, 2176, 2241, 2306, 2370, 2435, 2500, 2564, 2629, 2694, 2758, 2823, 2888, 3208, 3273, 3338, 3402, 3648, 3713, 3778, 3842, 3907, 3972, 4036, 4316, 4386, 4528, 4593, 4658, 4722, 4799, 5008, 5073, 5138, 5202, 5267, 5332, 5410, 5588, 5653, 5718, 5782, 5847, 5912, 5990, 6088, 6153, 6218, 6282, 6347, 6418, 6588, 6658, 6800, 6890, 7048, 7120, 7260, 7326, 7448, 7528, 7660, 7725, 7790, 7854, 7919, 7984, 8048, 8114, 8272, 8337, 8402, 8466, 8531, 8596, 8660, 8725, 8790, 8854, 8937, 9112, 9177, 9239, 9540, 9605, 9667];

const adcLevels = [
  [6236, at6236], [6235, at6235], [6234, at6234], [6233, at6233], [6232, at6232], [6231, at6231],
  [6230, at6230], [6229, at6229], [6228, at6228], [6227, at6227], [6226, at6226], [6225, at6225],
  [6224, at6224], [6223, at6223], [6222, at6222], [6221, at6221], [6220, at6220], [6219, at6219],
  [6218, at6218], [6217, at6217], [6216, at6216], [6215, at6215], [6214, at6214], [6213, at6213],
  [6212, at6212], [6211, at6211], [6210, at6210], [6209, at6209], [6208, at6208], [6207, at6207],
  [6206, at6206], [6205, at6205], [6204, at6204], [6203, at6203], [6202, at6202], [6201, at6201],
  [6200, at6200], [6199, at6199], [6198, at6198], [6197, at6197], [6196, at6196], [6195, at6195],
  [6194, at6194], [6193, at6193], [6192, at6192], [6190, at6190], [6189, at6189],
  [6220, more6220], [6219, more6219], [6218, more6218], [6217, more6217], [6216, more6216],
  [6215, more6215], [6214, more6214], [6213, more6213], [6212, more6212], [6211, more6211],
  [6210, more6210], [6209, more6209], [6208, more6208], [6207, more6207], [6206, more6206],
  [6205, more6205]
];

const points = [];
adcLevels.forEach(([adc, samples]) => {
  samples.forEach(s => points.push({ x: s, y: adc }));
});

const fontName = '"DejaVu Sans", sans-serif';

// full box round the axes, and title centred over the axes not the canvas
const framePlugin = {
  id: 'frame',
  afterLayout(chart) {
    chart.titleBlock.left = chart.chartArea.left;
    chart.titleBlock.right = chart.chartArea.right;
  },
  afterDraw(chart) {
    const a = chart.chartArea;
    const c = chart.ctx;
    c.save();
    c.strokeStyle = '#000';
    c.lineWidth = 1;
    c.strokeRect(a.left + 0.5, a.top + 0.5, a.width, a.height);
    c.restore();
  }
};

new Chart(document.getElementById('pedestal').getContext('2d'), {
  type: 'scatter',
  data: {
    datasets: [{
      label: 'Samples',
      data: points,
      backgroundColor: '#000',
      pointRadius: 2.8,
      pointBorderWidth: 0,
      pointHoverRadius: 2.8
    }]
  },
  plugins: [framePlugin],
  options: {
    responsive: false,
    animation: false,
    layout: { padding: { left: 0, right: 15, top: 0, bottom: 0 } },
    plugins: {
      legend: { display: false },
      tooltip: { enabled: false },
      title: {
        display: true,
        text: 'Run 673, channel091, Pedestal',
        color: '#000',
        font: { family: fontName, size: 16.67, weight: 'normal' },
        padding: { top: 12, bottom: 3 }
      }
    },
    scales: {
      x: {
        type: 'linear',
        min: -479,
        max: 10347,
        afterBuildTicks(scale) { scale.ticks = xTickValues.map(v => ({ value: v })); },
        afterFit(scale) { scale.height = 58; },
        grid: { color: '#b0b0b0', lineWidth: 1, tickColor: '#000', tickLength: 5, tickWidth: 1 },
        border: { color: '#000' },
        ticks: { color: '#000', maxRotation: 0, padding: 4, font: { family: fontName, size: 13.9 }, callback: v => String(v) },
        title: { display: true, text: 'Sample #', color: '#000', font: { family: fontName, size: 13.9 }, padding: { top: 0, bottom: 13 } }
      },
      y: {
        type: 'linear',
        min: 6186.63,
        max: 6238.39,
        afterBuildTicks(scale) { scale.ticks = yTickValues.map(v => ({ value: v })); },
        afterFit(scale) { scale.width = 81; },
        grid: { color: '#b0b0b0', lineWidth: 1, tickColor: '#000', tickLength: 5, tickWidth: 1 },
        border: { color: '#000' },
        ticks: { color: '#000', padding: 5, font: { family: fontName, size: 13.9 }, callback: v => String(v) },
        title: { display: true, text: 'ADC Counts', color: '#000', font: { family: fontName, size: 13.9 }, padding: { top: 13, bottom: 0 } }
      }
    }
  }
});
</script>
</body>
</html>
